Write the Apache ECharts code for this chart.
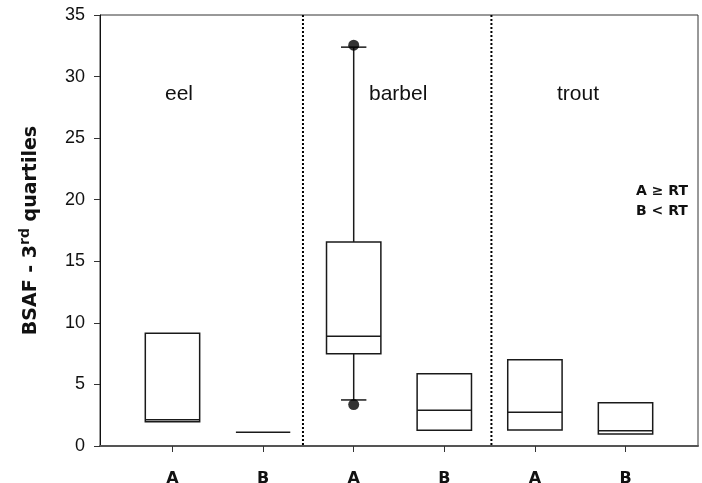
<!DOCTYPE html>
<html>
<head>
<meta charset="utf-8">
<script src="https://cdn.jsdelivr.net/npm/echarts@6/dist/echarts.min.js"></script>
<style>
  html, body { margin: 0; padding: 0; background: #fff; }
  #chart { width: 702px; height: 483px; }
</style>
</head>
<body>
<div id="chart"></div>
<script>
// Group labels along the x axis (fish species, two groups each)
const categories = ['A', 'B', 'A', 'B', 'A', 'B'];
const positions = [1, 2, 3, 4, 5, 6];
const species = ['eel', 'barbel', 'trout'];

// Box statistics per group
const q1     = [1.97, 1.11, 7.50, 1.27, 1.30, 0.97];
const median = [2.14, 1.11, 8.91, 2.90, 2.74, 1.24];
const q3     = [9.15, 1.11, 16.57, 5.87, 7.01, 3.52];
const whiskerLow  = [null, null, 3.74, null, null, null];
const whiskerHigh = [null, null, 32.39, null, null, null];

// Extreme points (x position, value)
const outlierX = [3, 3];
const outlierY = [3.36, 32.55];

// Dividers between species
const dividers = [2.44, 4.52];

const boxData = positions.map((x, i) => [x, q1[i], median[i], q3[i], whiskerLow[i], whiskerHigh[i]]);

const chart = echarts.init(document.getElementById('chart'));

const BOX_HALF = 0.3;
const CAP_HALF = 0.14;

chart.setOption({
  animation: false,
  grid: {
    left: 100, right: 4, top: 15, bottom: 37,
    outerBoundsMode: 'none', containLabel: false,
    show: true, borderColor: '#333', borderWidth: 1
  },
  xAxis: {
    type: 'value', min: 0.2, max: 6.8,
    splitLine: { show: false },
    axisLine: { lineStyle: { color: '#555', width: 2 } },
    axisTick: { show: true, length: 6, customValues: positions, lineStyle: { color: '#333' } },
    axisLabel: {
      customValues: positions,
      formatter: v => categories[Math.round(v) - 1] || '',
      margin: 25, fontFamily: 'DejaVu Sans', fontWeight: 'bold', fontSize: 16, color: '#111'
    }
  },
  yAxis: {
    type: 'value', min: 0, max: 35, interval: 5,
    splitLine: { show: false },
    axisLine: { show: true, lineStyle: { color: '#111', width: 1 } },
    axisTick: { show: true, length: 6, lineStyle: { color: '#333' } },
    axisLabel: { fontFamily: 'Liberation Sans', fontSize: 18, color: '#111', margin: 15 },
    name: '{m|BSAF - 3}{s|rd}{m| quartiles}',
    nameLocation: 'middle', nameRotate: 90, nameGap: 56,
    nameTextStyle: {
      rich: {
        m: { fontFamily: 'DejaVu Sans', fontWeight: 'bold', fontSize: 19, color: '#111' },
        s: { fontFamily: 'DejaVu Sans', fontWeight: 'bold', fontSize: 14, color: '#111', padding: [0, 0, 12, 0] }
      }
    }
  },
  series: [
    {
      type: 'custom',
      data: boxData,
      z: 3,
      renderItem: function (params, api) {
        const x = api.value(0);
        const lo = api.value(1), md = api.value(2), hi = api.value(3);
        const wl = api.value(4), wh = api.value(5);
        const style = { stroke: '#1a1a1a', lineWidth: 1.5, fill: 'none' };
        const pL = api.coord([x - BOX_HALF, hi]);
        const pR = api.coord([x + BOX_HALF, lo]);
        const children = [];
        if (hi - lo > 0.001) {
          children.push({ type: 'rect', shape: { x: pL[0], y: pL[1], width: pR[0] - pL[0], height: pR[1] - pL[1] }, style: style });
        }
        const m1 = api.coord([x - BOX_HALF, md]);
        const m2 = api.coord([x + BOX_HALF, md]);
        children.push({ type: 'line', shape: { x1: m1[0], y1: m1[1], x2: m2[0], y2: m2[1] }, style: style });
        const c = api.coord([x, 0])[0];
        if (!isNaN(wh) && wh != null) {
          const a = api.coord([x, hi]), b = api.coord([x, wh]);
          const k1 = api.coord([x - CAP_HALF, wh]), k2 = api.coord([x + CAP_HALF, wh]);
          children.push({ type: 'line', shape: { x1: c, y1: a[1], x2: c, y2: b[1] }, style: style });
          children.push({ type: 'line', shape: { x1: k1[0], y1: k1[1], x2: k2[0], y2: k2[1] }, style: style });
        }
        if (!isNaN(wl) && wl != null) {
          const a = api.coord([x, lo]), b = api.coord([x, wl]);
          const k1 = api.coord([x - CAP_HALF, wl]), k2 = api.coord([x + CAP_HALF, wl]);
          children.push({ type: 'line', shape: { x1: c, y1: a[1], x2: c, y2: b[1] }, style: style });
          children.push({ type: 'line', shape: { x1: k1[0], y1: k1[1], x2: k2[0], y2: k2[1] }, style: style });
        }
        return { type: 'group', children: children };
      }
    },
    {
      type: 'scatter',
      data: outlierX.map((x, i) => [x, outlierY[i]]),
      symbol: 'circle', symbolSize: 11,
      itemStyle: { color: '#000' },
      z: 4
    },
    {
      type: 'custom',
      data: dividers.map(d => [d]),
      z: 2,
      renderItem: function (params, api) {
        const top = api.coord([api.value(0), 35]);
        const bot = api.coord([api.value(0), 0]);
        return {
          type: 'line',
          shape: { x1: top[0], y1: top[1], x2: bot[0], y2: bot[1] },
          style: { stroke: '#000', lineWidth: 2, lineDash: [2, 2] }
        };
      }
    }
  ],
  graphic: [
    { type: 'text', left: 165, top: 84, style: { text: species[0], font: '21px "Liberation Sans"', fill: '#111' } },
    { type: 'text', left: 369, top: 84, style: { text: species[1], font: '21px "Liberation Sans"', fill: '#111' } },
    { type: 'text', left: 557, top: 84, style: { text: species[2], font: '21px "Liberation Sans"', fill: '#111' } },
    { type: 'text', right: 14, top: 181, style: { text: 'A \u2265 RT\nB < RT', font: 'bold 14px "DejaVu Sans"', fill: '#111', align: 'right', lineHeight: 20 } }
  ]
});
</script>
</body>
</html>
